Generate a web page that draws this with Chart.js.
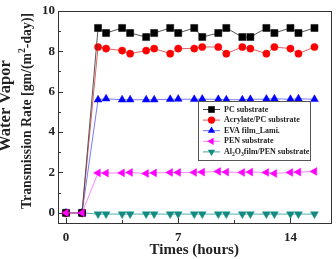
<!DOCTYPE html>
<html>
<head>
<meta charset="utf-8">
<script src="https://cdn.jsdelivr.net/npm/chart.js"></script>
<style>
  body { margin: 0; background: #fff; }
  canvas { display: block; }
</style>
</head>
<body>
<canvas id="wvtrChart" width="336" height="259"></canvas>
<script>
// data
const times = [0, 1, 2, 2.5, 3.5, 4, 5, 5.5, 6.5, 7, 8, 8.5, 9.5, 10, 11, 11.5, 12.5, 13, 14, 14.5, 15.5];
const pcValues = [0, 0, 9.15, 8.9, 9.15, 8.9, 8.7, 8.9, 9.15, 8.9, 9.15, 8.7, 8.9, 9.15, 8.7, 8.7, 9.15, 8.9, 9.15, 8.9, 9.15];
const acrylateValues = [0, 0, 8.21, 8.13, 8.03, 7.88, 8.03, 8.13, 7.88, 8.13, 8.13, 8.21, 8.21, 7.88, 8.21, 8.13, 7.88, 8.21, 8.13, 7.88, 8.21];
const evaValues = [0, 0, 5.6, 5.65, 5.6, 5.6, 5.6, 5.6, 5.62, 5.63, 5.62, 5.63, 5.62, 5.6, 5.6, 5.62, 5.63, 5.65, 5.62, 5.65, 5.62];
const penValues = [0, 0, 1.98, 1.97, 1.98, 2.0, 1.95, 1.98, 2.0, 2.0, 2.0, 2.02, 2.05, 2.02, 2.0, 2.02, 2.0, 1.95, 2.0, 2.02, 2.05];
const al2o3Values = [0, 0, -0.06, -0.06, -0.06, -0.06, -0.06, -0.06, -0.06, -0.06, -0.06, -0.06, -0.06, -0.06, -0.06, -0.06, -0.06, -0.06, -0.06, -0.06, -0.06];

const seriesNames = ['PC substrate', 'Acrylate/PC substrate', 'EVA film_Lami.', 'PEN substrate', 'Al2O3film/PEN substrate'];
const xTickValues = [0, 7, 14];
const xMinorTicks = [3.5, 10.5];
const yTickValues = [0, 2, 4, 6, 8, 10];
const yMinorTicks = [1, 3, 5, 7, 9];

const serif = '"Liberation Serif", "DejaVu Serif", serif';

function toPoints(values) {
  return values.map((v, i) => ({ x: times[i], y: v }));
}

const seriesStyles = [
  { color: '#000000', line: '#444444', style: 'rect', radius: 5, rotation: 0 },
  { color: '#ff0000', line: '#e05050', style: 'circle', radius: 3.6, rotation: 0 },
  { color: '#0000ff', line: '#6a6aff', style: 'triangle', radius: 4.5, rotation: 0 },
  { color: '#ff00ff', line: '#ff77ff', style: 'triangle', radius: 4.5, rotation: -90 },
  { color: '#138a80', line: '#40a8a0', style: 'triangle', radius: 4.5, rotation: 180 }
];

const allValues = [pcValues, acrylateValues, evaValues, penValues, al2o3Values];

const datasets = allValues.map((vals, i) => ({
  label: seriesNames[i],
  data: toPoints(vals),
  borderColor: seriesStyles[i].line,
  backgroundColor: seriesStyles[i].color,
  pointBackgroundColor: seriesStyles[i].color,
  pointBorderColor: seriesStyles[i].color,
  pointBorderWidth: 0.5,
  borderWidth: 0.9,
  pointStyle: seriesStyles[i].style,
  pointRadius: seriesStyles[i].radius,
  pointRotation: seriesStyles[i].rotation,
  order: i === 3 ? -1 : i,
  showLine: true,
  tension: 0
}));

// draw a marker by hand for the legend
function drawMarker(ctx, s, x, y) {
  ctx.save();
  ctx.fillStyle = s.color;
  ctx.translate(x, y);
  ctx.rotate(s.rotation * Math.PI / 180);
  ctx.beginPath();
  if (s.style === 'rect') {
    ctx.rect(-3.3, -3.3, 6.6, 6.6);
  } else if (s.style === 'circle') {
    ctx.arc(0, 0, 3.6, 0, Math.PI * 2);
  } else {
    const r = 4.2;
    ctx.moveTo(0, -r);
    ctx.lineTo(r * 0.87, r * 0.5);
    ctx.lineTo(-r * 0.87, r * 0.5);
    ctx.closePath();
  }
  ctx.fill();
  ctx.restore();
}

// text made of pieces, [text, shift] where shift 1 = subscript, -1 = superscript
function drawPieces(ctx, parts, size, x, y, align) {
  let total = 0;
  parts.forEach(([t, s]) => {
    ctx.font = 'bold ' + (s ? size * 0.7 : size) + 'px ' + serif;
    total += ctx.measureText(t).width;
  });
  let tx = align === 'center' ? x - total / 2 : x;
  parts.forEach(([t, s]) => {
    ctx.font = 'bold ' + (s ? size * 0.7 : size) + 'px ' + serif;
    ctx.fillText(t, tx, y + s * size * 0.32);
    tx += ctx.measureText(t).width;
  });
}

// frame, inward ticks, y title and the boxed legend
const framePlugin = {
  id: 'framePlugin',
  afterDraw(chart) {
    const ctx = chart.ctx;
    const a = chart.chartArea;
    const xs = chart.scales.x;
    const ys = chart.scales.y;
    ctx.save();
    ctx.strokeStyle = '#333';
    ctx.lineWidth = 1;
    ctx.strokeRect(Math.round(a.left) + 0.5, Math.round(a.top) + 0.5, Math.round(a.right - a.left), Math.round(a.bottom - a.top));

    ctx.beginPath();
    xTickValues.forEach(v => {
      const px = Math.round(xs.getPixelForValue(v)) + 0.5;
      ctx.moveTo(px, a.bottom); ctx.lineTo(px, a.bottom - 5);
    });
    xMinorTicks.forEach(v => {
      const px = Math.round(xs.getPixelForValue(v)) + 0.5;
      ctx.moveTo(px, a.bottom); ctx.lineTo(px, a.bottom - 3);
    });
    yTickValues.forEach(v => {
      const py = Math.round(ys.getPixelForValue(v)) + 0.5;
      ctx.moveTo(a.left, py); ctx.lineTo(a.left + 5, py);
    });
    yMinorTicks.forEach(v => {
      const py = Math.round(ys.getPixelForValue(v)) + 0.5;
      ctx.moveTo(a.left, py); ctx.lineTo(a.left + 3, py);
    });
    ctx.stroke();

    // y axis title, two lines
    ctx.fillStyle = '#222';
    ctx.textBaseline = 'middle';
    ctx.save();
    ctx.translate(6, 106);
    ctx.rotate(-Math.PI / 2);
    drawPieces(ctx, [['Water Vapor', 0]], 16.5, 0, 0, 'center');
    ctx.restore();
    ctx.save();
    ctx.translate(27, 111);
    ctx.rotate(-Math.PI / 2);
    drawPieces(ctx, [['Transmission Rate [gm/(m', 0], ['2', -1], ['-day)]', 0]], 13.8, 0, 0, 'center');
    ctx.restore();

    // legend box
    const bx = 198.5, by = 101.5, bw = 112, bh = 59;
    ctx.fillStyle = '#fff';
    ctx.fillRect(bx, by, bw, bh);
    ctx.strokeStyle = '#555';
    ctx.strokeRect(bx, by, bw, bh);
    ctx.textAlign = 'left';
    seriesNames.forEach((name, i) => {
      const s = seriesStyles[i];
      const ry = 109.5 + i * 10.6;
      ctx.strokeStyle = s.line;
      ctx.lineWidth = 1;
      ctx.beginPath();
      ctx.moveTo(203, ry); ctx.lineTo(220, ry);
      ctx.stroke();
      drawMarker(ctx, s, 211.5, ry);
      ctx.fillStyle = '#222';
      if (i === 4) {
        drawPieces(ctx, [['Al', 0], ['2', 1], ['O', 0], ['3', 1], ['film/PEN substrate', 0]], 8, 224, ry, 'left');
      } else {
        drawPieces(ctx, [[name, 0]], 8, 224, ry, 'left');
      }
    });
    ctx.restore();
  }
};

const config = {
  type: 'scatter',
  data: { datasets: datasets },
  options: {
    responsive: false,
    animation: false,
    layout: { padding: { top: 6, right: 5, left: 0, bottom: 0 } },
    plugins: {
      legend: { display: false },
      tooltip: { enabled: false }
    },
    scales: {
      x: {
        type: 'linear',
        min: -0.5,
        max: 16.5,
        afterBuildTicks: (scale) => { scale.ticks = xTickValues.map(v => ({ value: v })); },
        afterFit: (scale) => { scale.height = 36; },
        grid: { display: false, drawTicks: false },
        border: { display: false },
        ticks: {
          padding: 7,
          color: '#222',
          font: { family: serif, size: 13, weight: 'bold' }
        },
        title: {
          display: true,
          text: 'Times (hours)',
          color: '#222',
          padding: { top: 0, bottom: 0 },
          font: { family: serif, size: 15, weight: 'bold', lineHeight: 1.2 }
        }
      },
      y: {
        type: 'linear',
        min: -0.5,
        max: 10,
        afterBuildTicks: (scale) => { scale.ticks = yTickValues.map(v => ({ value: v })); },
        afterFit: (scale) => { scale.width = 58; },
        grid: { display: false, drawTicks: false },
        border: { display: false },
        ticks: {
          padding: 3,
          color: '#222',
          font: { family: serif, size: 13, weight: 'bold' }
        },
        title: { display: false }
      }
    }
  },
  plugins: [framePlugin]
};

const wvtrChart = new Chart(document.getElementById('wvtrChart'), config);
</script>
</body>
</html>
